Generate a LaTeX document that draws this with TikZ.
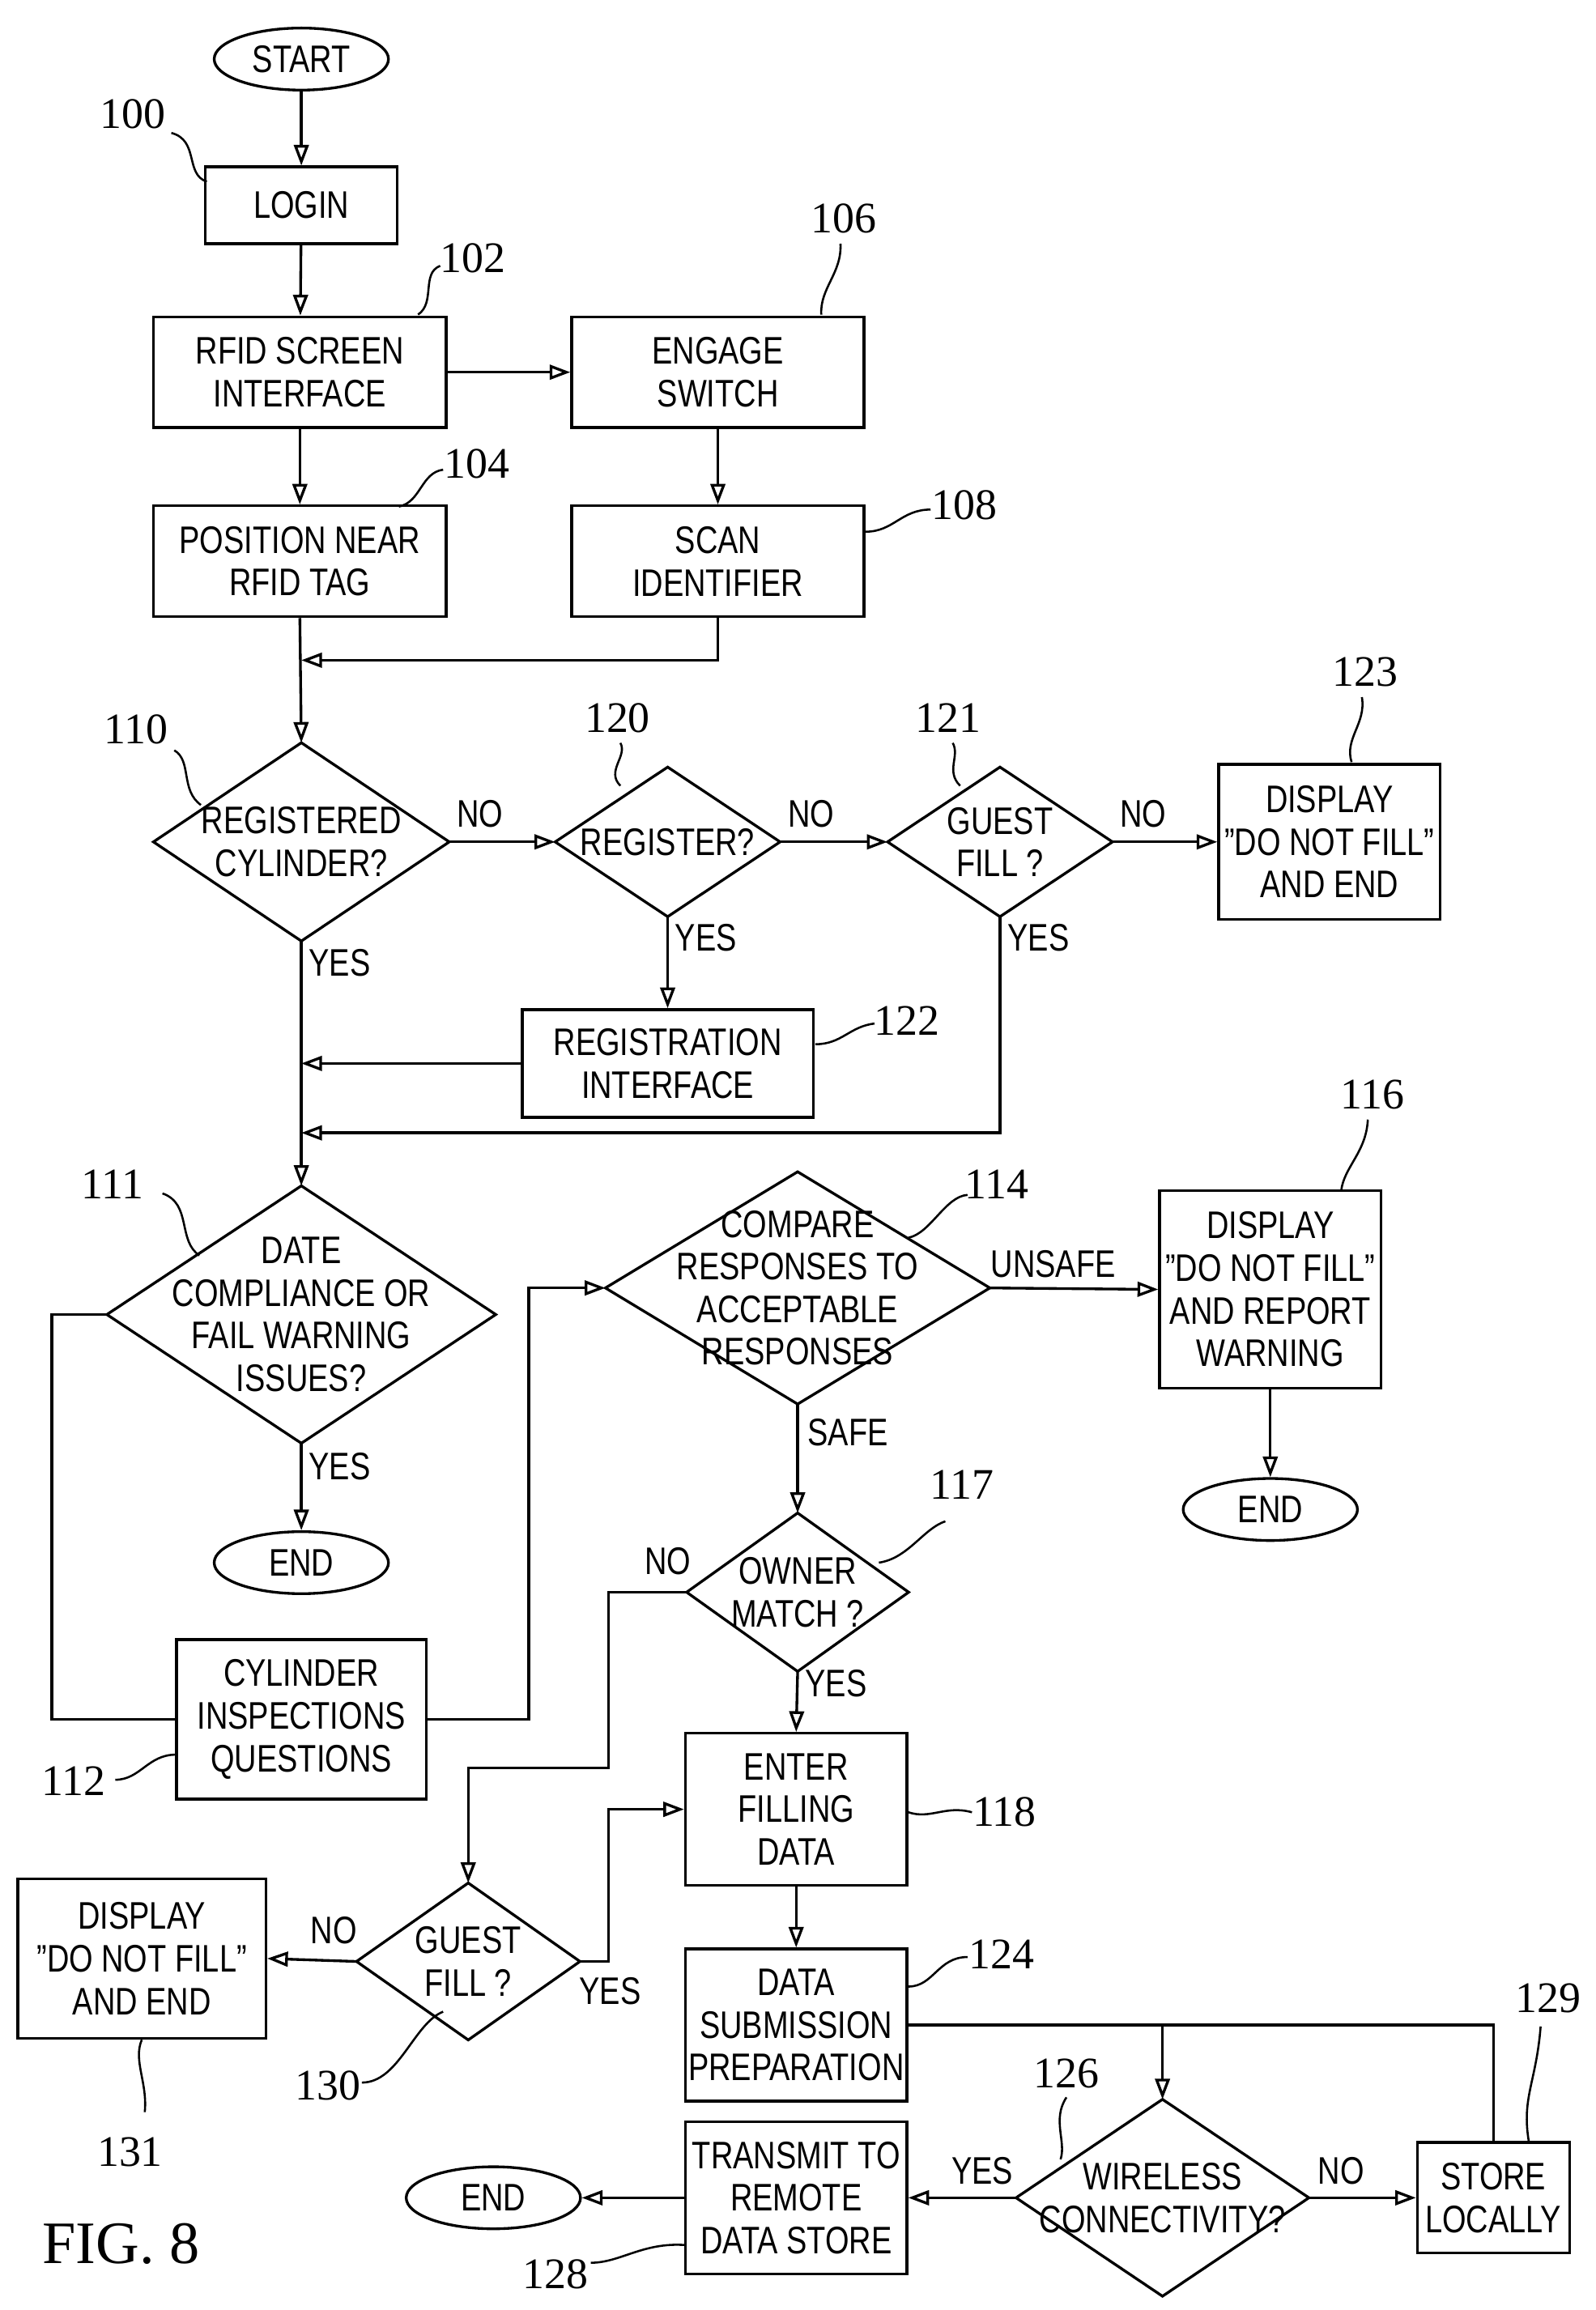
\documentclass[tikz,border=0pt]{standalone}
\usepackage{fontspec}
\setmainfont{Liberation Sans}[FakeStretch=0.8]
\newfontfamily\numfont{Liberation Serif}
\usetikzlibrary{arrows.meta,shapes.geometric}
\begin{document}
\begin{tikzpicture}[x=0.05cm,y=-0.05cm,
  every node/.style={font=\fontsize{37}{41}\selectfont, align=center, inner sep=0},
  box/.style={draw, line width=2.6pt},
  dia/.style={draw=none},
  oval/.style={draw, ellipse, line width=2.6pt, minimum width=5.9cm, minimum height=2.1cm},
  ln/.style={line width=2.6pt},
  ar/.style={line width=2.6pt, -{Triangle[open,length=0.7cm,width=0.5cm]}},
  lab/.style={font=\fontsize{37}{41}\selectfont},
  num/.style={font=\numfont\fontsize{42}{44}\selectfont},
  lead/.style={line width=2pt}]
\useasboundingbox[fill=white] (0,0) rectangle (1080,1564);
\newcommand\dmd[1]{\draw[ln] (#1.north)--(#1.east)--(#1.south)--(#1.west)--cycle;}
% nodes
\node[oval] (start) at (204,40) {START};
\node[box, minimum width=6.5cm, minimum height=2.6cm] (login) at (204,139) {LOGIN};
\node[box, minimum width=9.9cm, minimum height=3.75cm] (rfid) at (203,252) {RFID SCREEN\\INTERFACE};
\node[box, minimum width=9.9cm, minimum height=3.75cm] (engage) at (486,252) {ENGAGE\\SWITCH};
\node[box, minimum width=9.9cm, minimum height=3.75cm] (pos) at (203,380) {POSITION NEAR\\RFID TAG};
\node[box, minimum width=9.9cm, minimum height=3.75cm] (scan) at (486,380) {SCAN\\IDENTIFIER};
\node[dia, minimum width=10cm, minimum height=6.7cm] (d110) at (204,570) {REGISTERED\\CYLINDER?}; \dmd{d110}
\node[dia, minimum width=7.6cm, minimum height=5.05cm] (d120) at (452,570) {REGISTER?}; \dmd{d120}
\node[dia, minimum width=7.6cm, minimum height=5.05cm] (d121) at (677,570) {GUEST\\FILL ?}; \dmd{d121}
\node[box, minimum width=7.5cm, minimum height=5.25cm] (r123) at (900,570) {DISPLAY\\"DO NOT FILL"\\AND END};
\node[box, minimum width=9.85cm, minimum height=3.65cm] (r122) at (452,720) {REGISTRATION\\INTERFACE};
\node[dia, minimum width=13.15cm, minimum height=8.7cm] (d111) at (204,890) {DATE\\COMPLIANCE OR\\FAIL WARNING\\ISSUES?}; \dmd{d111}
\node[oval] (end1) at (204,1058) {END};
\node[box, minimum width=8.45cm, minimum height=5.4cm] (r112) at (204,1164) {CYLINDER\\INSPECTIONS\\QUESTIONS};
\node[dia, minimum width=13cm, minimum height=7.85cm] (d114) at (540,872) {COMPARE\\RESPONSES TO\\ACCEPTABLE\\RESPONSES}; \dmd{d114}
\node[box, minimum width=7.5cm, minimum height=6.7cm] (r116) at (860,873) {DISPLAY\\"DO NOT FILL"\\AND REPORT\\WARNING};
\node[oval] (end2) at (860,1022) {END};
\node[dia, minimum width=7.5cm, minimum height=5.35cm] (d117) at (540,1078) {OWNER\\MATCH ?}; \dmd{d117}
\node[box, minimum width=7.5cm, minimum height=5.15cm] (r118) at (539,1225) {ENTER\\FILLING\\DATA};
\node[dia, minimum width=7.55cm, minimum height=5.3cm] (d130) at (317,1328) {GUEST\\FILL ?}; \dmd{d130}
\node[box, minimum width=8.4cm, minimum height=5.4cm] (r131) at (96,1326) {DISPLAY\\"DO NOT FILL"\\AND END};
\node[box, minimum width=7.5cm, minimum height=5.15cm] (r124) at (539,1371) {DATA\\SUBMISSION\\PREPARATION};
\node[dia, minimum width=9.9cm, minimum height=6.65cm] (d126) at (787,1488) {WIRELESS\\CONNECTIVITY?}; \dmd{d126}
\node[box, minimum width=7.5cm, minimum height=5.15cm] (r128) at (539,1488) {TRANSMIT TO\\REMOTE\\DATA STORE};
\node[box, minimum width=5.15cm, minimum height=3.75cm] (r129) at (1011,1488) {STORE\\LOCALLY};
\node[oval] (end3) at (334,1488) {END};
% connectors
\draw[ar] (start) -- (login);
\draw[ar] (login) -- (rfid);
\draw[ar] (rfid) -- (engage);
\draw[ar] (rfid) -- (pos);
\draw[ar] (engage) -- (scan);
\coordinate (m1) at (204,447);
\draw[ar] (scan.south) |- (m1);
\draw[ar] (pos.south) -- (d110.north);
\draw[ar] (d110.east) -- (d120.west);
\draw[ar] (d120.east) -- (d121.west);
\draw[ar] (d121.east) -- (r123.west);
\draw[ar] (d120.south) -- (r122.north);
\coordinate (m2) at (204,720);
\coordinate (m3) at (204,767);
\draw[ar] (r122.west) -- (m2);
\draw[ar] (d121.south) |- (m3);
\draw[ar] (d110.south) -- (d111.north);
\draw[ar] (d111.south) -- (end1.north);
\draw[ln] (d111.west) -- (35,890) |- (r112.west);
\draw[ar] (r112.east) -- (358,1164) |- (d114.west);
\draw[ar] (d114.east) -- (r116.west);
\draw[ar] (r116.south) -- (end2.north);
\draw[ar] (d114.south) -- (d117.north);
\draw[ar] (d117.south) -- (r118.north);
\draw[ar] (d117.west) -- (412,1078) -- (412,1197) -| (d130.north);
\draw[ar] (d130.east) -- (412,1328) |- (r118.west);
\draw[ar] (d130.west) -- (r131.east);
\draw[ar] (r118.south) -- (r124.north);
\coordinate (m4) at (787,1371);
\draw[ln] (r124.east) -- (m4);
\draw[ln] (r129.north) |- (m4);
\draw[ar] (m4) -- (d126.north);
\draw[ar] (d126.east) -- (r129.west);
\draw[ar] (d126.west) -- (r128.east);
\draw[ar] (r128.west) -- (end3.east);
% edge labels
\node[lab] at (325,551) {NO};
\node[lab] at (549,551) {NO};
\node[lab] at (774,551) {NO};
\node[lab] at (230,652) {YES};
\node[lab] at (478,635) {YES};
\node[lab] at (703,635) {YES};
\node[lab] at (230,993) {YES};
\node[lab] at (713,856) {UNSAFE};
\node[lab] at (574,970) {SAFE};
\node[lab] at (452,1057) {NO};
\node[lab] at (566,1140) {YES};
\node[lab] at (226,1307) {NO};
\node[lab] at (413,1348) {YES};
\node[lab] at (665,1470) {YES};
\node[lab] at (908,1470) {NO};
% reference numbers
\node[num] at (90,77) {100};
\draw[lead] (116,90) .. controls (135,95) and (125,118) .. (140,123);
\node[num] at (320,175) {102};
\draw[lead] (298,180) .. controls (285,185) and (295,205) .. (283,213);
\node[num] at (571,148) {106};
\draw[lead] (569,165) .. controls (570,185) and (555,195) .. (556,213);
\node[num] at (323,314) {104};
\draw[lead] (300,318) .. controls (285,320) and (285,340) .. (270,343);
\node[num] at (653,342) {108};
\draw[lead] (630,345) .. controls (610,345) and (605,360) .. (586,360);
\node[num] at (92,494) {110};
\draw[lead] (118,508) .. controls (130,515) and (122,535) .. (136,545);
\node[num] at (418,486) {120};
\draw[lead] (420,503) .. controls (425,512) and (410,522) .. (420,532);
\node[num] at (642,486) {121};
\draw[lead] (645,503) .. controls (650,512) and (640,522) .. (650,532);
\node[num] at (924,455) {123};
\draw[lead] (922,472) .. controls (925,490) and (910,500) .. (915,516);
\node[num] at (614,691) {122};
\draw[lead] (592,693) .. controls (575,695) and (570,707) .. (552,707);
\node[num] at (929,741) {116};
\draw[lead] (926,758) .. controls (925,780) and (910,790) .. (908,806);
\node[num] at (76,802) {111};
\draw[lead] (110,808) .. controls (130,815) and (120,840) .. (135,850);
\node[num] at (675,802) {114};
\draw[lead] (655,809) .. controls (640,810) and (630,835) .. (615,838);
\node[num] at (651,1005) {117};
\draw[lead] (640,1030) .. controls (625,1035) and (615,1055) .. (595,1058);
\node[num] at (50,1206) {112};
\draw[lead] (78,1205) .. controls (95,1205) and (100,1188) .. (119,1188);
\node[num] at (680,1227) {118};
\draw[lead] (658,1227) .. controls (640,1222) and (630,1232) .. (615,1227);
\node[num] at (678,1323) {124};
\draw[lead] (655,1325) .. controls (635,1325) and (632,1345) .. (615,1345);
\node[num] at (1048,1353) {129};
\draw[lead] (1043,1372) .. controls (1040,1410) and (1030,1420) .. (1035,1450);
\node[num] at (722,1404) {126};
\draw[lead] (722,1420) .. controls (712,1435) and (722,1450) .. (718,1462);
\node[num] at (222,1412) {130};
\draw[lead] (245,1410) .. controls (270,1410) and (280,1370) .. (300,1362);
\node[num] at (88,1457) {131};
\draw[lead] (98,1430) .. controls (100,1410) and (90,1395) .. (96,1381);
\node[num] at (376,1540) {128};
\draw[lead] (400,1532) .. controls (420,1532) and (435,1518) .. (464,1520);
\node[font=\numfont\fontsize{58}{60}\selectfont] at (82,1519) {FIG. 8};
\end{tikzpicture}
\end{document}
